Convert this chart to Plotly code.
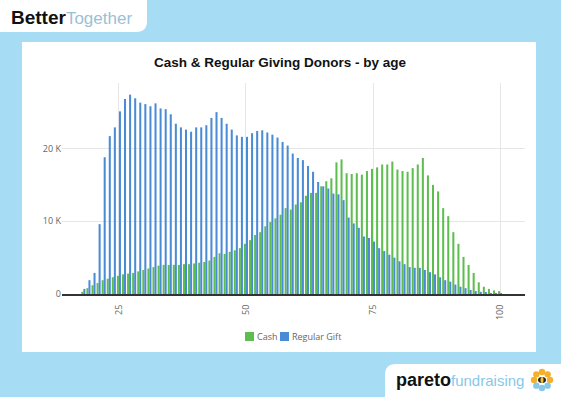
import math
import plotly.graph_objects as go

# ---------------- data ----------------
ages = list(range(18, 101))
cash = [0.3, 0.8, 1.2, 1.5, 1.9, 2.1, 2.3, 2.5, 2.7, 2.8,
        2.9, 3.1, 3.3, 3.5, 3.7, 3.9, 4.0, 4.0, 4.0, 4.0,
        4.1, 4.1, 4.2, 4.3, 4.4, 4.6, 5.1, 5.6, 5.5, 5.8,
        6.0, 6.3, 6.9, 7.4, 8.1, 8.5, 9.3, 9.9, 10.4, 10.9,
        11.8, 11.6, 12.3, 12.6, 13.5, 13.9, 13.9, 14.8, 15.5, 15.9,
        18.1, 18.5, 16.6, 16.5, 16.6, 16.4, 16.9, 17.2, 17.4, 17.8,
        17.8, 18.2, 17.1, 16.9, 16.8, 17.3, 17.8, 18.7, 16.3, 15.0,
        14.1, 11.8, 10.7, 8.5, 6.9, 5.1, 4.0, 2.9, 1.6, 1.0,
        0.7, 0.5, 0.4]
regular_gift = [0.7, 1.9, 2.9, 9.6, 18.8, 21.7, 22.9, 25.1, 26.8, 27.4,
                26.9, 26.3, 26.1, 25.8, 26.2, 25.5, 25.4, 24.7, 23.4, 22.9,
                22.6, 22.3, 22.9, 22.9, 23.2, 24.2, 25.0, 24.2, 23.4, 22.6,
                21.8, 21.6, 21.6, 22.1, 22.4, 22.5, 22.2, 21.9, 21.5, 20.9,
                20.4, 19.3, 18.7, 18.4, 17.6, 16.8, 15.4, 14.8, 14.5, 13.8,
                13.7, 12.9, 10.5, 9.7, 9.1, 7.9, 7.7, 7.2, 6.3, 5.9,
                5.4, 5.0, 4.5, 4.1, 3.7, 3.6, 3.6, 3.3, 3.0, 2.7,
                2.3, 1.9, 1.7, 1.3, 1.0, 0.8, 0.55, 0.4, 0.3, 0.2,
                0.1, 0.05, 0.02]
cash_vals = [v * 1000 for v in cash]
regular_vals = [v * 1000 for v in regular_gift]

x_tick_vals = [25, 50, 75, 100]
y_tick_vals = [0, 10000, 20000]
y_tick_text = ["0", "10 K", "20 K"]

GREEN = "#5dbd4f"
BLUE = "#4a8bd6"
SKY = "#a7dcf5"

# ---------------- geometry helpers (pixel -> paper) ----------------
W, H = 561, 397
L, R, T, B = 62, 525, 83, 294


def px(x):
    return (x - L) / (R - L)


def py(y):
    return (B - y) / (B - T)


fig = go.Figure()
fig.add_bar(x=ages, y=cash_vals, name="Cash", marker_color=GREEN,
            marker_line_width=0, showlegend=False)
fig.add_bar(x=ages, y=regular_vals, name="Regular Gift", marker_color=BLUE,
            marker_line_width=0, showlegend=False)

shapes = []
# main white panel
shapes.append(dict(type="rect", xref="paper", yref="paper", layer="below",
                   x0=px(22), x1=px(536), y0=py(352), y1=py(42),
                   fillcolor="white", line=dict(width=0)))
# top-left tab with rounded bottom-right corner
r = 11
p1 = (f"M {px(-2)},{py(-2)} L {px(147)},{py(-2)} L {px(147)},{py(32 - r)} "
      f"Q {px(147)},{py(32)} {px(147 - r)},{py(32)} L {px(-2)},{py(32)} Z")
shapes.append(dict(type="path", xref="paper", yref="paper", layer="below",
                   path=p1, fillcolor="white", line=dict(width=0)))
# bottom-right tab with rounded top-left corner
p2 = (f"M {px(385 + r)},{py(364)} L {px(563)},{py(364)} L {px(563)},{py(399)} "
      f"L {px(385)},{py(399)} L {px(385)},{py(364 + r)} "
      f"Q {px(385)},{py(364)} {px(385 + r)},{py(364)} Z")
shapes.append(dict(type="path", xref="paper", yref="paper", layer="below",
                   path=p2, fillcolor="white", line=dict(width=0)))

# legend squares
for x0, col in [(245, GREEN), (280, BLUE)]:
    shapes.append(dict(type="rect", xref="paper", yref="paper",
                       x0=px(x0), x1=px(x0 + 9), y0=py(341), y1=py(332),
                       fillcolor=col, line=dict(width=0)))

# flower / bee icon
cx, cy = 542, 380
for k in range(8):
    ang = math.radians(k * 45)
    ex = cx + 8 * math.cos(ang)
    ey = cy - 8 * math.sin(ang)
    col = "#f4b02a" if 0 <= k <= 4 else "#86c8ea"
    shapes.append(dict(type="circle", xref="paper", yref="paper",
                       x0=px(ex - 3.2), x1=px(ex + 3.2), y0=py(ey + 3.2), y1=py(ey - 3.2),
                       fillcolor=col, line=dict(width=0)))
shapes.append(dict(type="circle", xref="paper", yref="paper",
                   x0=px(cx - 4), x1=px(cx + 4), y0=py(cy + 3), y1=py(cy - 3),
                   fillcolor="#222222", line=dict(width=0)))
shapes.append(dict(type="circle", xref="paper", yref="paper",
                   x0=px(cx - 1.5), x1=px(cx + 1.5), y0=py(cy + 3), y1=py(cy - 3),
                   fillcolor="#f4c430", line=dict(width=0)))

annotations = [
    dict(xref="paper", yref="paper", x=px(9), y=py(17), xanchor="left", yanchor="middle",
         showarrow=False,
         text="<b>Better</b><span style='color:#9bbfd4;font-size:17px'>Together</span>",
         font=dict(family="Liberation Sans, Arial", size=19, color="#111111")),
    dict(xref="paper", yref="paper", x=px(394), y=py(380), xanchor="left", yanchor="middle",
         showarrow=False,
         text="<b>pareto</b><span style='color:#86c8ea;font-size:15px'>fundraising</span>",
         font=dict(family="Liberation Sans, Arial", size=18, color="#111111")),
    dict(xref="paper", yref="paper", x=px(255), y=py(336.5), xanchor="left", yanchor="middle",
         showarrow=False, text="Cash",
         font=dict(family="Open Sans", size=9, color="#666666")),
    dict(xref="paper", yref="paper", x=px(290), y=py(336.5), xanchor="left", yanchor="middle",
         showarrow=False, text="Regular Gift",
         font=dict(family="Open Sans", size=9, color="#666666")),
]

fig.update_layout(
    width=W, height=H,
    margin=dict(l=L, r=W - R, t=T, b=H - B, pad=0),
    paper_bgcolor=SKY,
    plot_bgcolor="rgba(0,0,0,0)",
    barmode="group", bargap=0.2, bargroupgap=0,
    title=dict(text="<b>Cash & Regular Giving Donors - by age</b>",
               xref="container", yref="container", x=280 / W, y=1 - 62 / H,
               xanchor="center", yanchor="middle",
               font=dict(family="Liberation Sans, Arial", size=13.5, color="#111111")),
    xaxis=dict(range=[13.8, 104.9], tickmode="array", tickvals=x_tick_vals,
               tickangle=-90, showgrid=True, gridcolor="#e6e6e6", gridwidth=1,
               zeroline=False, showline=True, linecolor="#333333", linewidth=2,
               ticks="", ticklabelstandoff=5,
               tickfont=dict(family="Open Sans", size=9, color="#666666")),
    yaxis=dict(range=[0, 29000], tickmode="array", tickvals=y_tick_vals,
               ticktext=y_tick_text, showgrid=True, gridcolor="#e6e6e6", gridwidth=1,
               zeroline=False, showline=False, ticks="",
               tickfont=dict(family="Open Sans", size=9, color="#666666")),
    shapes=shapes,
    annotations=annotations,
    showlegend=False,
)

fig.write_html(
    "out.html",
    config={"displayModeBar": False},
    post_script="document.body.style.margin='0';document.body.style.overflow='hidden';",
)
